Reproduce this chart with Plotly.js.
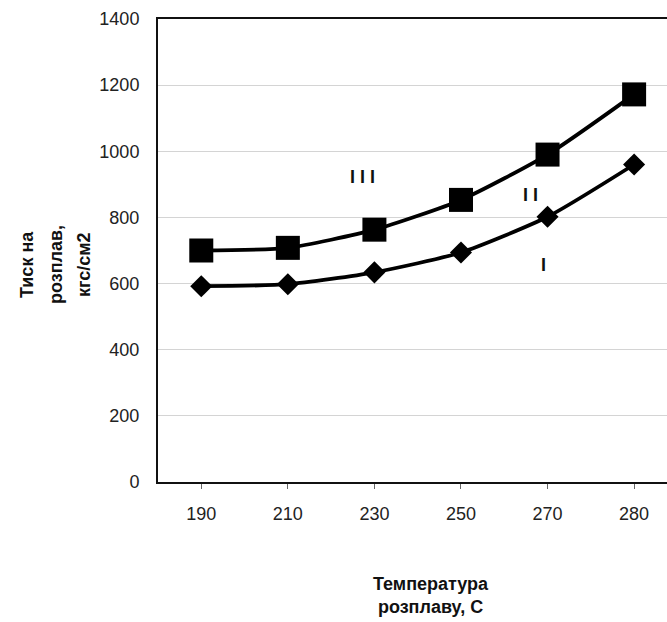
<!DOCTYPE html>
<html>
<head>
<meta charset="utf-8">
<script src="https://cdn.plot.ly/plotly-3.0.1.min.js"></script>
<style>html,body{margin:0;padding:0;background:#fff;}</style>
</head>
<body>
<div id="chart" style="width:667px;height:622px;"></div>
<script>
// Data
const categories = ["190", "210", "230", "250", "270", "280"];
const seriesSquare = [700, 708, 763, 853, 990, 1172];   // curve III (upper)
const seriesDiamond = [592, 598, 634, 694, 802, 960];   // curve I (lower)
const yTicks = [0, 200, 400, 600, 800, 1000, 1200, 1400];
const curveLabels = ["I I I", "I I", "I"];
const curveLabelX = [1.86, 3.80, 3.95];
const curveLabelY = [922, 868, 656];

const xIdx = categories.map((c, i) => i);

const traces = [
  {
    x: xIdx, y: seriesSquare, type: "scatter", mode: "lines+markers",
    line: {color: "#000", width: 3.8, shape: "spline", smoothing: 0.6},
    marker: {symbol: "square", size: 24, color: "#000"},
    cliponaxis: false, showlegend: false
  },
  {
    x: xIdx, y: seriesDiamond, type: "scatter", mode: "lines+markers",
    line: {color: "#000", width: 3.8, shape: "spline", smoothing: 0.6},
    marker: {symbol: "diamond", size: 17, color: "#000"},
    cliponaxis: false, showlegend: false
  }
];

const FONT = "Liberation Sans, Arial, sans-serif";
const annotations = curveLabels.map((t, i) => ({
  x: curveLabelX[i], y: curveLabelY[i], xref: "x", yref: "y",
  text: t, showarrow: false,
  font: {family: FONT, size: 18, color: "#111", weight: 700}
}));

const plotW = 667 - 158, plotH = 622 - 19 - 140;
const yTitleLines = ["Тиск на", "розплав,", "кгс/см2"];
const yTitleX = [27, 56, 84];
yTitleLines.forEach((t, i) => annotations.push({
  x: (yTitleX[i] - 158) / plotW, y: (482 - 265) / plotH, xref: "paper", yref: "paper",
  text: t, showarrow: false,
  textangle: -90, xanchor: "center", yanchor: "middle",
  font: {family: FONT, size: 18, color: "#111", weight: 700}
}));

// x-axis title (two lines)
annotations.push({
  x: (431 - 158) / plotW, y: (482 - 595) / plotH, xref: "paper", yref: "paper",
  text: "Температура<br>розплаву, С", showarrow: false, xanchor: "center", yanchor: "middle",
  font: {family: FONT, size: 18, color: "#111", weight: 700}
});

const layout = {
  width: 667, height: 622,
  margin: {l: 158, r: 0, t: 19, b: 140},
  paper_bgcolor: "#fff", plot_bgcolor: "#fff",
  font: {family: FONT, color: "#222"},
  xaxis: {
    range: [-0.5, 5.38],
    tickmode: "array", tickvals: xIdx, ticktext: categories,
    tickfont: {size: 18, color: "#222"},
    ticks: "outside", ticklen: 5, tickcolor: "#666", tickson: "boundaries",
    showgrid: false, zeroline: false,
    showline: true, linecolor: "#111", linewidth: 2, mirror: true,
    ticklabelstandoff: 9,
    fixedrange: true
  },
  yaxis: {
    range: [0, 1400],
    tickmode: "array", tickvals: yTicks,
    tickfont: {size: 18, color: "#222"},
    ticks: "", showgrid: true, gridcolor: "#d4d4d4", gridwidth: 1,
    zeroline: false,
    showline: true, linecolor: "#111", linewidth: 2,
    ticklabelstandoff: 13,
    fixedrange: true
  },
  annotations: annotations
};

Plotly.newPlot("chart", traces, layout, {displayModeBar: false, staticPlot: true});
</script>
</body>
</html>
